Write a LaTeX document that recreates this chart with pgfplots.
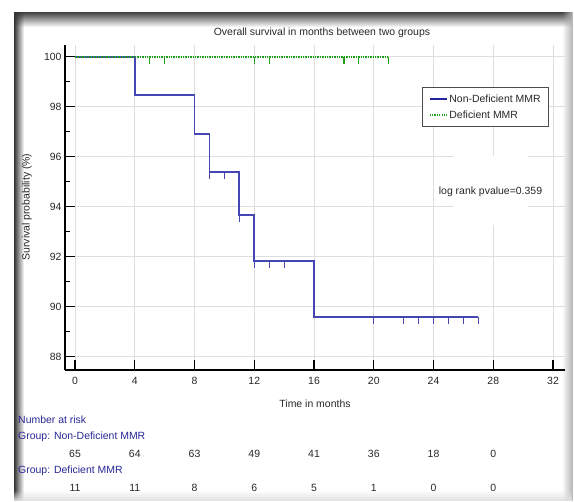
\documentclass[border=0pt]{standalone}
\usepackage{pgfplots}
\pgfplotsset{compat=1.18}
\usepackage{fontspec}
\setmainfont{Liberation Sans}
\usetikzlibrary{fadings}
\definecolor{kmblue}{RGB}{70,70,178}
\definecolor{legblue}{RGB}{35,35,160}
\definecolor{kmgreen}{RGB}{30,160,30}
\definecolor{riskblue}{RGB}{40,40,150}
\definecolor{txt}{RGB}{40,40,40}
\pgfdeclareplotmark{cens}{\pgfpathmoveto{\pgfpointorigin}\pgfpathlineto{\pgfpoint{0pt}{-2\pgfplotmarksize}}\pgfusepathqstroke}
\begin{document}
\begin{tikzpicture}[font=\fontsize{10.5}{12}\selectfont]
\begin{scope}[x=1bp,y=1bp]
\useasboundingbox (0,0) rectangle (574,-502);
\fill[white] (0,0) rectangle (574,-502);
% frame with shadow
\fill[black!75, path fading=south] (14,-12) rectangle (572,-27);
\fill[black!80, path fading=east] (14,-12) rectangle (24,-501);
\fill[black!30, path fading=west] (562,-12) rectangle (573,-501);
\fill[black!12, path fading=north] (14,-490) rectangle (573,-501);
\end{scope}
\begin{axis}[
  at={(65bp,-370bp)}, anchor=south west,
  width=500bp, height=325bp, scale only axis,
  xmin=-0.67, xmax=32.8, ymin=87.47, ymax=100.47,
  axis x line*=bottom, axis y line*=left,
  axis line style={black, line width=1.6bp},
  xtick={0,4,...,32}, ytick={88,90,...,100},
  minor ytick={89,91,...,99},
  tick align=inside, major tick length=10bp, minor tick length=5bp,
  every tick/.style={black, line width=1.2bp},
  grid=major, major grid style={black!13, line width=0.6bp},
  /pgf/number format/assume math mode=true,
  ticklabel style={font=\fontsize{10.5}{12}\selectfont, text=txt},
  xticklabel style={yshift=-4bp},
  clip=false,
  legend style={at={(0.714,0.871)}, anchor=north west, draw=black!70,
    line width=1.2bp, font=\fontsize{10.5}{12}\selectfont, text=txt,
    inner xsep=6bp, inner ysep=5bp, row sep=3bp},
  legend cell align=left,
]
\addplot[kmblue, line width=1.8bp, const plot, forget plot] coordinates {
 (0,100) (4,98.46) (8,96.92) (9,95.38) (11,93.67) (12,91.83) (16,89.60) (27,89.60)};
\addlegendimage{legblue, line width=1.8bp}
\addlegendentry{Non-Deficient MMR}
\addplot[kmgreen, line width=1.5bp, dash pattern=on 1.3bp off 1.1bp] coordinates {
 (0,100) (21,100)};
\addlegendentry{Deficient MMR}
\addplot[kmblue, line width=1.2bp, only marks, mark=cens, mark size=3.5bp, forget plot] coordinates {
 (9,95.38) (10,95.38) (11,93.67) (12,91.83) (13,91.83) (14,91.83)
 (20,89.60) (22,89.60) (23,89.60) (24,89.60) (25,89.60) (26,89.60) (27,89.60)};
\addplot[kmgreen, line width=1.2bp, only marks, mark=cens, mark size=3.5bp, forget plot] coordinates {
 (5,100) (6,100) (12,100) (13,100) (18,100) (19,100) (21,100)};
% numbers at risk
\node[text=txt] at (axis cs:0,84.12) {65};
\node[text=txt] at (axis cs:4,84.12) {64};
\node[text=txt] at (axis cs:8,84.12) {63};
\node[text=txt] at (axis cs:12,84.12) {49};
\node[text=txt] at (axis cs:16,84.12) {41};
\node[text=txt] at (axis cs:20,84.12) {36};
\node[text=txt] at (axis cs:24,84.12) {18};
\node[text=txt] at (axis cs:28,84.12) {0};
\node[text=txt] at (axis cs:0,82.76) {11};
\node[text=txt] at (axis cs:4,82.76) {11};
\node[text=txt] at (axis cs:8,82.76) {8};
\node[text=txt] at (axis cs:12,82.76) {6};
\node[text=txt] at (axis cs:16,82.76) {5};
\node[text=txt] at (axis cs:20,82.76) {1};
\node[text=txt] at (axis cs:24,82.76) {0};
\node[text=txt] at (axis cs:28,82.76) {0};
\end{axis}
\begin{scope}[x=1bp,y=1bp]
\fill[white] (453,-156) rectangle (528,-225);
\node[text=txt] at (490.5,-192) {log rank pvalue=0.359};
\node[text=txt] at (322,-33) {Overall survival in months between two groups};
\node[text=txt, rotate=90] at (27,-207) {Survival probability (\%)};
\node[text=txt] at (315,-404) {Time in months};
\node[text=riskblue, anchor=west, inner sep=0pt] at (18,-419.5) {Number at risk};
\node[text=riskblue, anchor=west, inner sep=0pt] at (18,-436.5) {Group: Non-Deficient MMR};
\node[text=riskblue, anchor=west, inner sep=0pt] at (18,-470.5) {Group: Deficient MMR};
\end{scope}
\end{tikzpicture}
\end{document}
